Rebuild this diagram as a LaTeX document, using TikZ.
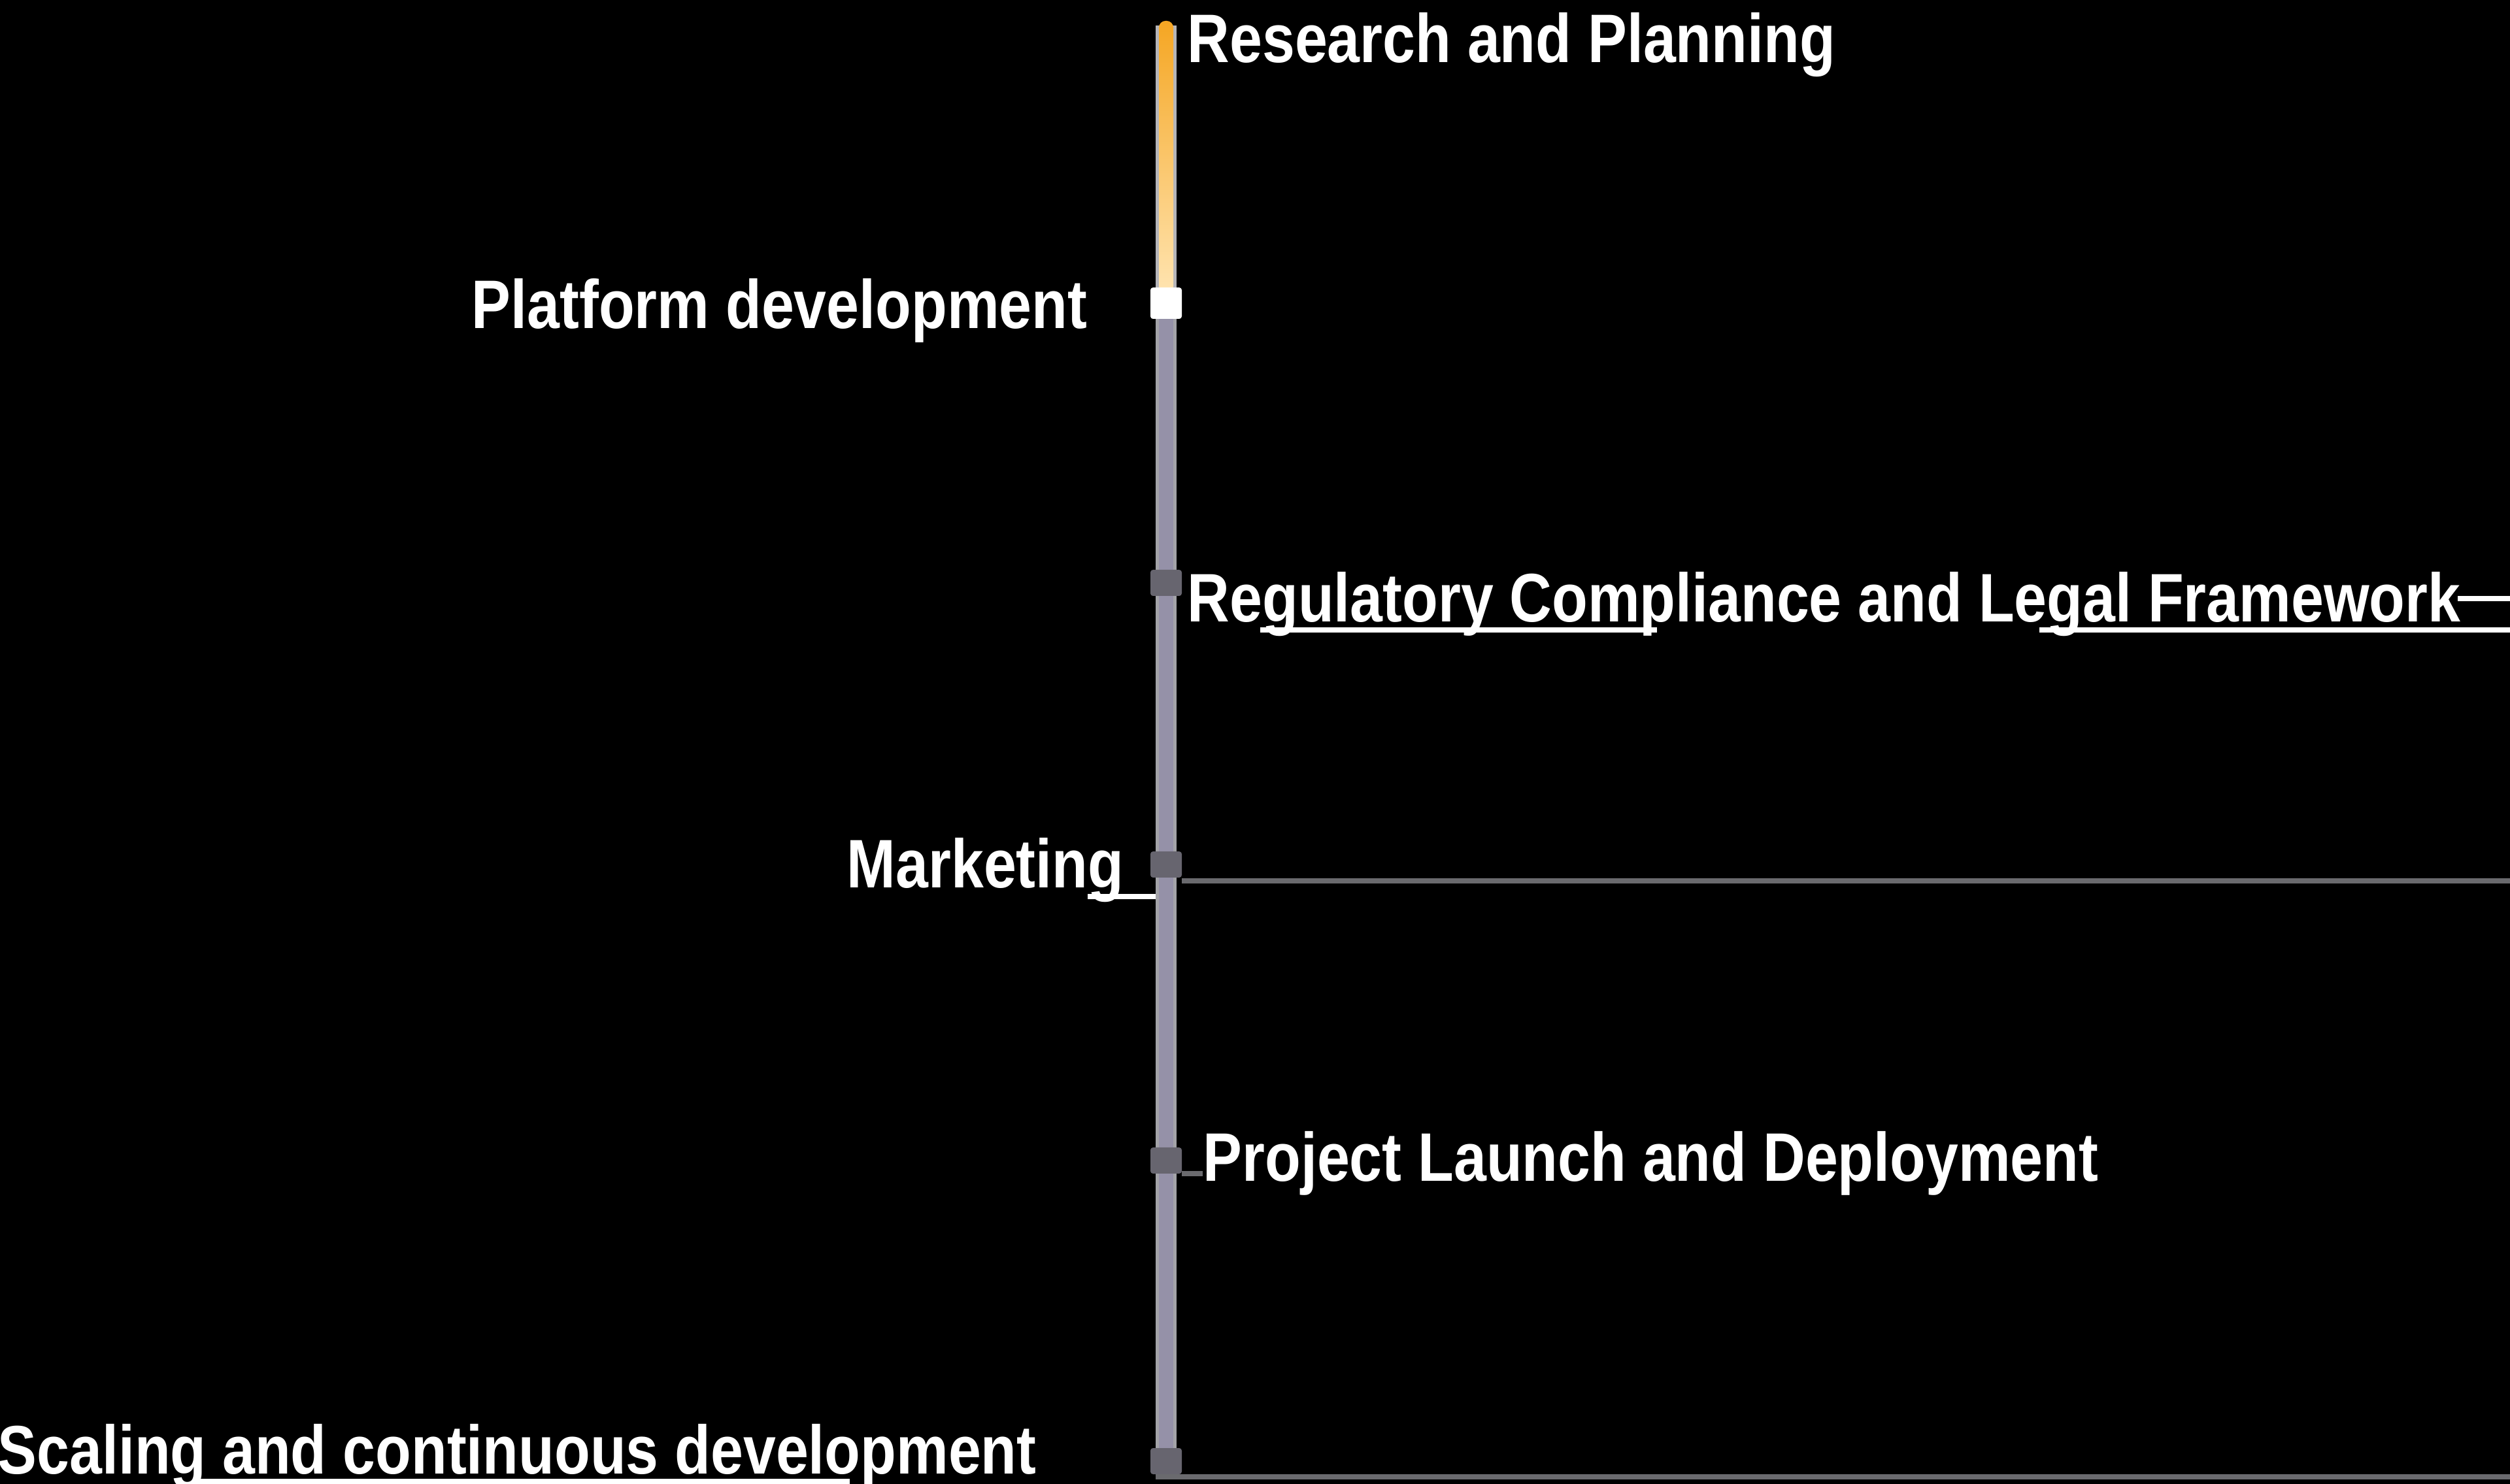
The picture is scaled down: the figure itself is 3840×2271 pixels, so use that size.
\documentclass[tikz,border=0pt]{standalone}
\usepackage{fontspec}
\newfontfamily\labfont{Liberation Sans}[FakeStretch=0.853]
\definecolor{barc}{RGB}{149,145,168}
\definecolor{baredge}{RGB}{163,163,168}
\definecolor{markc}{RGB}{103,101,111}
\definecolor{connc}{RGB}{106,106,110}
\definecolor{orangetop}{RGB}{245,166,35}
\definecolor{orangebot}{RGB}{255,228,176}
\begin{document}
\begin{tikzpicture}[x=0.1mm,y=-0.1mm,
  marker/.style={fill=markc, rounded corners=0.4mm, minimum width=4.8mm, minimum height=4mm, inner sep=0pt},
  whitemark/.style={fill=white, rounded corners=0.4mm, minimum width=4.8mm, minimum height=4.8mm, inner sep=0pt},
  lab/.style={text=white, inner sep=0pt, font=\labfont\bfseries\fontsize{29.9pt}{36pt}\selectfont},
  conn/.style={draw=connc, line width=0.8mm},
  wline/.style={draw=white, line width=0.8mm}]
\useasboundingbox (0,0) rectangle (3840,2271);
\fill[black] (0,0) rectangle (3840,2271);
% upper (orange) part of the bar
\fill[baredge!80!white] (1768,39) rectangle (1800,448);
\shade[top color=orangetop, bottom color=orangebot, rounded corners=1mm] (1773,32) rectangle (1795,448);
% lower (grey) part of the bar
\fill[baredge] (1768,470) rectangle (1800,2236);
\fill[barc] (1773,470) rectangle (1795,2236);
% markers
\node[whitemark] (m1) at (1784,464) {};
\node[marker] (m2) at (1784,892) {};
\node[marker] (m3) at (1784,1323) {};
\node[marker] (m4) at (1784,1776) {};
\node[marker] (m5) at (1784,2236) {};
% labels
\node[lab, anchor=base west] (t1) at (1816,96) {Research and Planning};
\node[lab, anchor=base east] (t2) at (1664,503) {Platform development};
\node[lab, anchor=base west] (t3) at (1816,952) {Regulatory Compliance and Legal Framework};
\node[lab, anchor=base east] (t4) at (1720,1359) {Marketing};
\node[lab, anchor=base west] (t5) at (1840,1808) {Project Launch and Deployment};
\node[lab, anchor=base west] (t6) at (-4,2255) {Scaling and continuous development};
% connector coordinates
\coordinate (c3a) at (1808,1348);
\coordinate (c3b) at (3840,1348);
\coordinate (c4a) at (1808,1796);
\coordinate (c5a) at (1768,2260);
\coordinate (c5b) at (3840,2260);
\draw[conn] (c3a) -- (c3b);
\draw[conn] (c4a) -- (t5.west |- c4a);
\draw[conn] (c5a) -- (c5b);
% white strokes
\coordinate (w1a) at (3760,916);
\coordinate (w1b) at (3840,916);
\coordinate (w2a) at (3120,964);
\coordinate (w2b) at (3840,964);
\coordinate (w3a) at (1928,964);
\coordinate (w3b) at (2535,964);
\coordinate (w4a) at (1664,1372);
\coordinate (w4b) at (1768,1372);
\coordinate (w5a) at (300,2267);
\coordinate (w5b) at (1300,2267);
\draw[wline] (w1a) -- (w1b);
\draw[wline] (w2a) -- (w2b);
\draw[wline] (w3a) -- (w3b);
\draw[wline] (w4a) -- (w4b);
\draw[wline] (w5a) -- (w5b);
\end{tikzpicture}
\end{document}
